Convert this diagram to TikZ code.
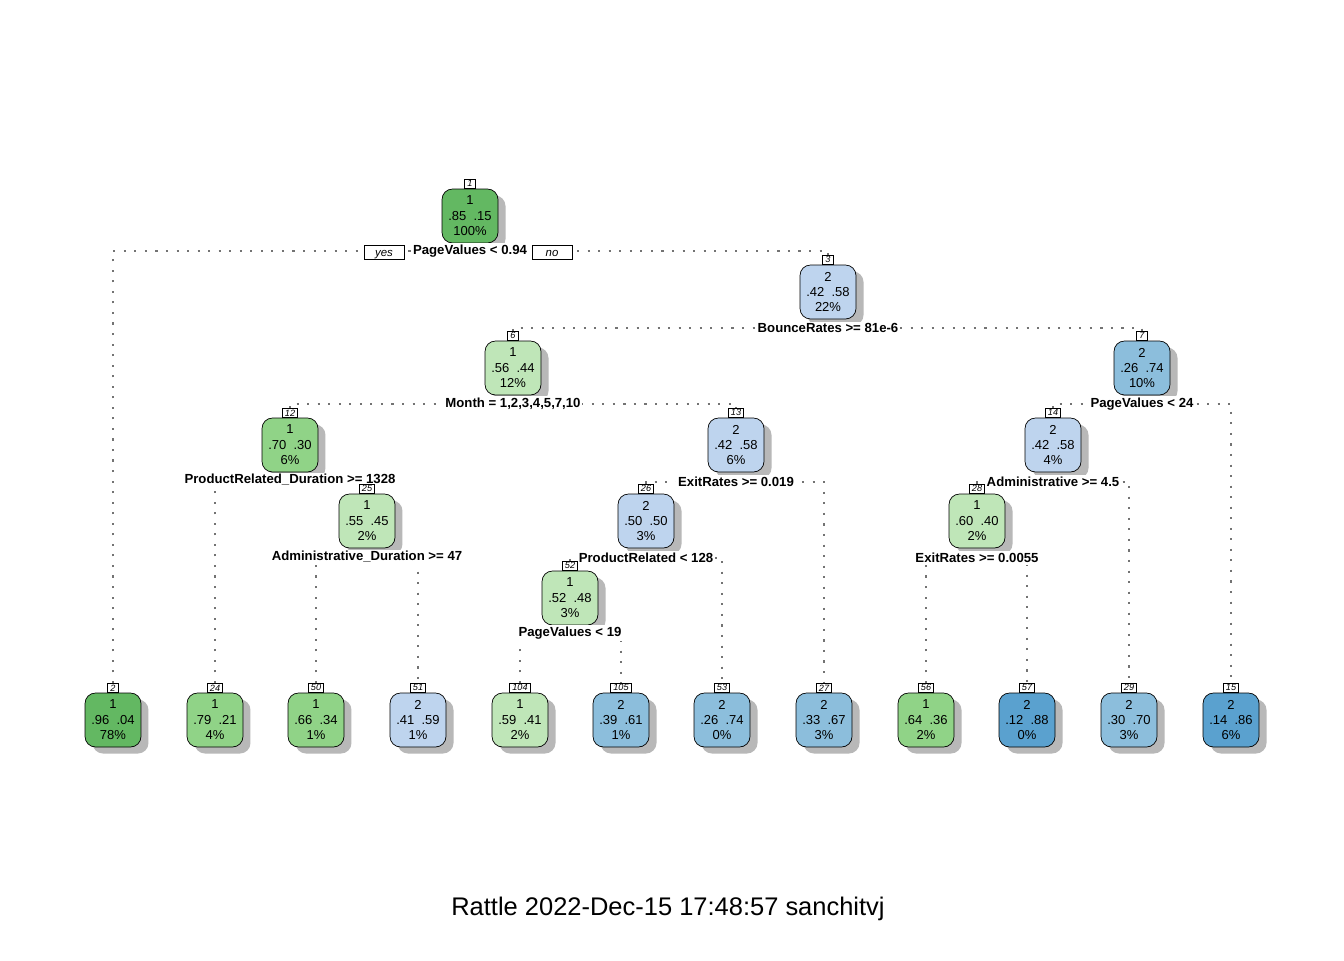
\documentclass[tikz,border=0pt]{standalone}
\usepackage{fontspec}
\setmainfont{Liberation Sans}
\usetikzlibrary{positioning,shadows,backgrounds}

\definecolor{gnDark}{HTML}{63B862}
\definecolor{gnMid}{HTML}{90D387}
\definecolor{gnLight}{HTML}{BFE6B8}
\definecolor{buLight}{HTML}{BED4EE}
\definecolor{buMid}{HTML}{8CBEDC}
\definecolor{buDark}{HTML}{5AA1CF}

\tikzset{
  box/.style={draw, thin, rounded corners=0.21cm, minimum width=1.12cm,
    minimum height=1.08cm, align=center, inner sep=0pt,
    font=\fontsize{7.4}{8.8}\selectfont,
    drop shadow={shadow xshift=0.15cm, shadow yshift=-0.13cm, fill=black!28, opacity=1}},
  tag/.style={draw, thin, fill=white, inner xsep=1.5pt, inner ysep=0pt,
    minimum width=0.22cm, minimum height=0.18cm,
    font=\fontsize{5.2}{5.2}\selectfont\itshape},
  split/.style={fill=white, inner xsep=1pt, inner ysep=1pt,
    font=\fontsize{7.5}{8}\selectfont\bfseries},
  yesno/.style={draw, thin, fill=white, minimum width=0.8cm, minimum height=0.23cm,
    inner ysep=0pt, text height=1.2ex, text depth=0.3ex,
    font=\fontsize{6.5}{7}\selectfont\itshape},
  link/.style={draw=black!55, line width=0.7pt, dash pattern=on 1.2pt off 4.8pt},
}

\begin{document}
\begin{tikzpicture}[x=0.02cm, y=-0.02cm]
  \useasboundingbox (0,0) rectangle (1344,960);

  % internal nodes
  \node[box, fill=gnDark]  (n1)  at (470,216) {1\\.85\ \ .15\\100\%};
  \node[box, fill=buLight] (n3)  at (828,292) {2\\.42\ \ .58\\22\%};
  \node[box, fill=gnLight] (n6)  at (513,368) {1\\.56\ \ .44\\12\%};
  \node[box, fill=buMid]   (n7)  at (1142,368) {2\\.26\ \ .74\\10\%};
  \node[box, fill=gnMid]   (n12) at (290,445) {1\\.70\ \ .30\\6\%};
  \node[box, fill=buLight] (n13) at (736,445) {2\\.42\ \ .58\\6\%};
  \node[box, fill=buLight] (n14) at (1053,445) {2\\.42\ \ .58\\4\%};
  \node[box, fill=gnLight] (n25) at (367,521) {1\\.55\ \ .45\\2\%};
  \node[box, fill=buLight] (n26) at (646,521) {2\\.50\ \ .50\\3\%};
  \node[box, fill=gnLight] (n28) at (977,521) {1\\.60\ \ .40\\2\%};
  \node[box, fill=gnLight] (n52) at (570,598) {1\\.52\ \ .48\\3\%};

  % leaves
  \node[box, fill=gnDark]  (n2)   at (113,720)  {1\\.96\ \ .04\\78\%};
  \node[box, fill=gnMid]   (n24)  at (215,720)  {1\\.79\ \ .21\\4\%};
  \node[box, fill=gnMid]   (n50)  at (316,720)  {1\\.66\ \ .34\\1\%};
  \node[box, fill=buLight] (n51)  at (418,720)  {2\\.41\ \ .59\\1\%};
  \node[box, fill=gnLight] (n104) at (520,720)  {1\\.59\ \ .41\\2\%};
  \node[box, fill=buMid]   (n105) at (621,720)  {2\\.39\ \ .61\\1\%};
  \node[box, fill=buMid]   (n53)  at (722,720)  {2\\.26\ \ .74\\0\%};
  \node[box, fill=buMid]   (n27)  at (824,720)  {2\\.33\ \ .67\\3\%};
  \node[box, fill=gnMid]   (n56)  at (926,720)  {1\\.64\ \ .36\\2\%};
  \node[box, fill=buDark]  (n57)  at (1027,720) {2\\.12\ \ .88\\0\%};
  \node[box, fill=buMid]   (n29)  at (1129,720) {2\\.30\ \ .70\\3\%};
  \node[box, fill=buDark]  (n15)  at (1231,720) {2\\.14\ \ .86\\6\%};

  % split rules
  \node[split] (s1)  at (470,251)  {PageValues < 0.94};
  \node[split] (s3)  at (828,328)  {BounceRates >= 81e-6};
  \node[split] (s6)  at (513,404)  {Month = 1,2,3,4,5,7,10};
  \node[split] (s7)  at (1142,404) {PageValues < 24};
  \node[split] (s12) at (290,480)  {ProductRelated\_Duration >= 1328};
  \node[split] (s13) at (736,482)  {ExitRates >= 0.019};
  \node[split] (s14) at (1053,482) {Administrative >= 4.5};
  \node[split] (s25) at (367,557)  {Administrative\_Duration >= 47};
  \node[split] (s26) at (646,558)  {ProductRelated < 128};
  \node[split] (s28) at (977,558)  {ExitRates >= 0.0055};
  \node[split] (s52) at (570,633)  {PageValues < 19};

  \node[yesno] (yes) at (384,252) {yes};
  \node[yesno] (no)  at (552,252) {no};

  % node numbers
  \node[tag, above=0pt of n1]   (t1)   {1};
  \node[tag, above=0pt of n3]   (t3)   {3};
  \node[tag, above=0pt of n6]   (t6)   {6};
  \node[tag, above=0pt of n7]   (t7)   {7};
  \node[tag, above=0pt of n12]  (t12)  {12};
  \node[tag, above=0pt of n13]  (t13)  {13};
  \node[tag, above=0pt of n14]  (t14)  {14};
  \node[tag, above=0pt of n25]  (t25)  {25};
  \node[tag, above=0pt of n26]  (t26)  {26};
  \node[tag, above=0pt of n28]  (t28)  {28};
  \node[tag, above=0pt of n52]  (t52)  {52};
  \node[tag, above=0pt of n2]   (t2)   {2};
  \node[tag, above=0pt of n24]  (t24)  {24};
  \node[tag, above=0pt of n50]  (t50)  {50};
  \node[tag, above=0pt of n51]  (t51)  {51};
  \node[tag, above=0pt of n104] (t104) {104};
  \node[tag, above=0pt of n105] (t105) {105};
  \node[tag, above=0pt of n53]  (t53)  {53};
  \node[tag, above=0pt of n27]  (t27)  {27};
  \node[tag, above=0pt of n56]  (t56)  {56};
  \node[tag, above=0pt of n57]  (t57)  {57};
  \node[tag, above=0pt of n29]  (t29)  {29};
  \node[tag, above=0pt of n15]  (t15)  {15};

  % branches
  \begin{scope}[on background layer]
    \fill[white] (0,0) rectangle (1344,960);
    \draw[link] (t2.north)   |- (s1.center)  -| (t3.north);
    \draw[link] (t6.north)   |- (s3.center)  -| (t7.north);
    \draw[link] (t12.north)  |- (s6.center)  -| (t13.north);
    \draw[link] (t14.north)  |- (s7.center)  -| (t15.north);
    \draw[link] (t24.north)  |- (s12.center) -| (t25.north);
    \draw[link] (t26.north)  |- (s13.center) -| (t27.north);
    \draw[link] (t28.north)  |- (s14.center) -| (t29.north);
    \draw[link] (t50.north)  |- (s25.center) -| (t51.north);
    \draw[link] (t52.north)  |- (s26.center) -| (t53.north);
    \draw[link] (t56.north)  |- (s28.center) -| (t57.north);
    \draw[link] (t104.north) |- (s52.center) -| (t105.north);
  \end{scope}

  \node[font=\fontsize{14.5}{17}\selectfont] (credit) at (668,909)
    {Rattle 2022-Dec-15 17:48:57 sanchitvj};
\end{tikzpicture}
\end{document}
